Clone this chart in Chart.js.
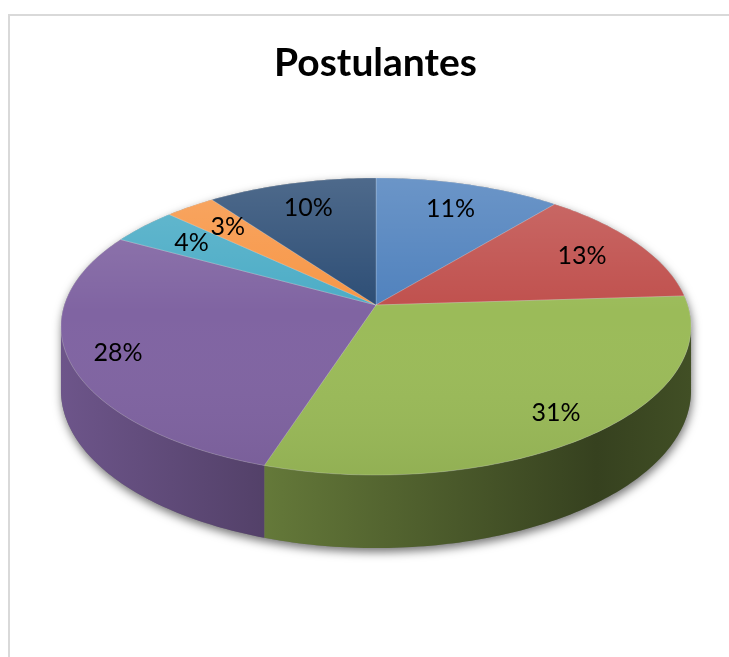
<!DOCTYPE html>
<html>
<head>
<meta charset="utf-8">
<title>Postulantes</title>
<script src="https://cdn.jsdelivr.net/npm/chart.js@4.4.0/dist/chart.umd.min.js"></script>
<style>
  html, body { margin: 0; padding: 0; background: #fff; overflow: hidden; }
  .frame {
    position: absolute; left: 8px; top: 14px; width: 760px; height: 700px;
    border-left: 2px solid #d9d9d9; border-top: 2px solid #d9d9d9;
  }
  .wrap { position: absolute; left: 0; top: 0; width: 729px; height: 657px; }
</style>
</head>
<body>
<div class="frame"></div>
<div class="wrap"><canvas id="pieChart"></canvas></div>
<script>
// data
const categories = ['Categoría 1', 'Categoría 2', 'Categoría 3', 'Categoría 4', 'Categoría 5', 'Categoría 6', 'Categoría 7'];
const values = [11, 13, 31, 28, 4, 3, 10];

// style
const sliceColors = ['#4f81bd', '#c0504d', '#9bbb59', '#8064a2', '#4bacc6', '#f79646', '#2c4d75'];
const SIDE_STOPS = [[0, 0.85], [0.35, 0.63], [0.85, 0.35], [1, 0.42]];
const LABEL_FONT = '25px Lato';

// perspective of the tilted pie (page pixels)
const PIE = { cx: 376, cy: 305, a: 311.7, b: 145.4, k: 0.145, depth: 62.4 };

function shade(hex, f) {
    const n = parseInt(hex.slice(1), 16);
    const r = Math.round(((n >> 16) & 255) * f);
    const g = Math.round(((n >> 8) & 255) * f);
    const b = Math.round((n & 255) * f);
    return 'rgb(' + r + ',' + g + ',' + b + ')';
}

// unit-circle point (u, v) -> page, h = 0 top face, 1 bottom face
function project(u, v, h) {
    const den = 1 - PIE.k * v;
    return [PIE.cx + PIE.a * u / den, PIE.cy + (PIE.b * v + h * PIE.depth) / den];
}

function rim(ctx, from, to, h, first) {
    const steps = Math.max(2, Math.ceil(Math.abs(to - from) * 60));
    for (let s = 0; s <= steps; s++) {
        const t = from + (to - from) * s / steps;
        const p = project(Math.cos(t), Math.sin(t), h);
        if (first && s === 0) ctx.moveTo(p[0], p[1]);
        else ctx.lineTo(p[0], p[1]);
    }
}

const total = values.reduce((a, b) => a + b, 0);

const pie3d = {
    id: 'pie3d',
    beforeDatasetsDraw(chart) {
        const ctx = chart.ctx;
        const arcs = chart.getDatasetMeta(0).data;
        const edge = Math.asin(PIE.k);   // where the silhouette turns
        const [cx, cy] = project(0, 0, 0);

        // body + drop shadow
        ctx.save();
        ctx.beginPath();
        rim(ctx, Math.PI - edge, 2 * Math.PI + edge, 0, true);
        rim(ctx, edge, Math.PI - edge, 1, false);
        ctx.closePath();
        ctx.shadowColor = 'rgba(0,0,0,0.55)';
        ctx.shadowBlur = 10;
        ctx.shadowOffsetX = 1;
        ctx.shadowOffsetY = 4;
        ctx.fillStyle = '#777';
        ctx.fill();
        ctx.restore();

        // front walls
        arcs.forEach((arc, i) => {
            const a = Math.max(arc.startAngle, edge);
            const b = Math.min(arc.endAngle, Math.PI - edge);
            if (b <= a) return;
            const g = ctx.createLinearGradient(PIE.cx - 315, 0, PIE.cx + 315, 0);
            SIDE_STOPS.forEach(s => g.addColorStop(s[0], shade(sliceColors[i], s[1])));
            ctx.beginPath();
            rim(ctx, a, b, 0, true);
            rim(ctx, b, a, 1, false);
            ctx.closePath();
            ctx.fillStyle = g;
            ctx.fill();
        });

        // top face slices
        arcs.forEach(arc => {
            ctx.beginPath();
            ctx.moveTo(cx, cy);
            rim(ctx, arc.startAngle, arc.endAngle, 0, false);
            ctx.closePath();
            ctx.fillStyle = arc.options.backgroundColor;
            ctx.fill();
            ctx.lineWidth = 0.8;
            ctx.strokeStyle = 'rgba(255,255,255,0.25)';
            ctx.stroke();
        });

        // soft light on the top face
        ctx.save();
        ctx.beginPath();
        rim(ctx, 0, 2 * Math.PI, 0, true);
        ctx.closePath();
        const top = project(0, -1, 0)[1];
        const bottom = project(0, 1, 0)[1];
        const light = ctx.createLinearGradient(0, top, 0, bottom);
        light.addColorStop(0, 'rgba(255,255,255,0.16)');
        light.addColorStop(0.45, 'rgba(255,255,255,0)');
        light.addColorStop(1, 'rgba(0,0,0,0.06)');
        ctx.fillStyle = light;
        ctx.fill();
        ctx.restore();

        // percentage labels
        ctx.save();
        ctx.font = LABEL_FONT;
        ctx.fillStyle = '#000';
        ctx.textAlign = 'center';
        ctx.textBaseline = 'middle';
        arcs.forEach((arc, i) => {
            const mid = (arc.startAngle + arc.endAngle) / 2;
            const f = Math.sin(mid) < 0 ? 0.78 : 0.85;
            const p = project(f * Math.cos(mid), f * Math.sin(mid), 0);
            ctx.fillText(Math.round(values[i] / total * 100) + '%', p[0], p[1]);
        });
        ctx.restore();

        return false;
    }
};

new Chart(document.getElementById('pieChart'), {
    type: 'pie',
    data: {
        labels: categories,
        datasets: [{
            data: values,
            backgroundColor: sliceColors,
            borderWidth: 0
        }]
    },
    options: {
        responsive: true,
        maintainAspectRatio: false,
        animation: false,
        events: [],
        layout: { padding: { left: 22 } },
        plugins: {
            legend: { display: false },
            tooltip: { enabled: false },
            title: {
                display: true,
                text: 'Postulantes',
                color: '#000',
                font: { family: 'Lato', size: 39, weight: 'bold' },
                padding: { top: 40, bottom: 10 }
            }
        }
    },
    plugins: [pie3d]
});
</script>
</body>
</html>
